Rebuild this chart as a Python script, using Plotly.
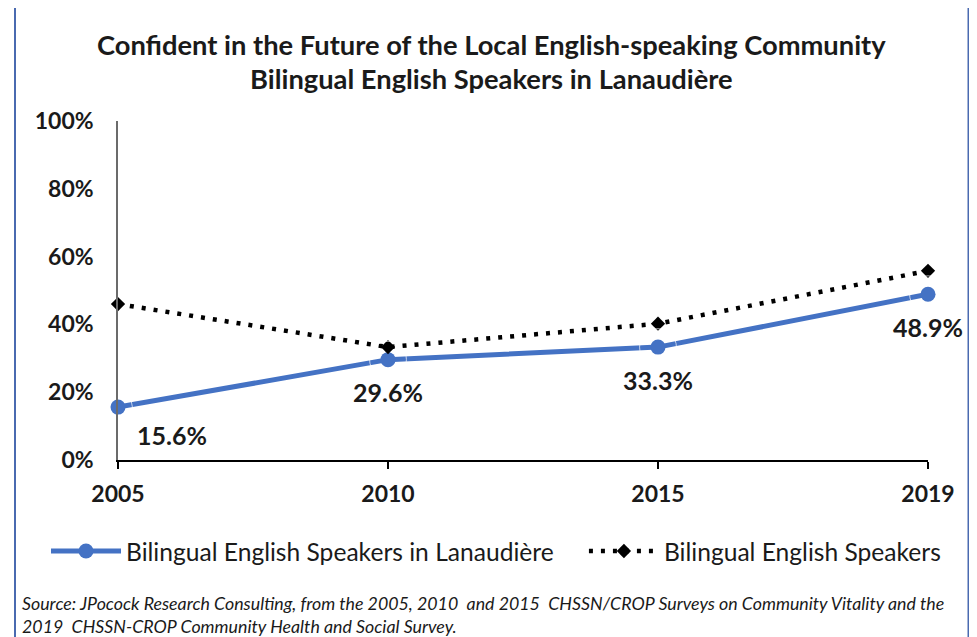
import plotly.graph_objects as go

years = ["2005", "2010", "2015", "2019"]
lanaudiere = [0.156, 0.296, 0.333, 0.489]
bilingual_all = [0.46, 0.333, 0.402, 0.558]
label_text = ["15.6%", "29.6%", "33.3%", "48.9%"]
y_ticks = [0, 0.2, 0.4, 0.6, 0.8, 1.0]
y_tick_text = ["0%", "20%", "40%", "60%", "80%", "100%"]

FONT = "Lato"
BLUE = "#4472C4"
FRAME = "#4A6AB0"
TXT = "#1a1a1a"

W, H = 977, 637
OFF = 8  # page offset of the plot div inside the browser window
PL, PT, PW, PH = 118 - OFF, 121 - OFF, 810, 339


def px_x(p):
    return (p - 118) / PW


def px_y(p):
    return (460 - p) / PH


fig = go.Figure()
fig.add_trace(go.Scatter(
    x=years, y=lanaudiere, mode="lines+markers",
    name="Bilingual English Speakers in Lanaudière" + "\u00a0" * 4,
    line=dict(color=BLUE, width=5),
    marker=dict(symbol="circle", size=15, color=BLUE),
    cliponaxis=False,
))
fig.add_trace(go.Scatter(
    x=years, y=bilingual_all, mode="lines+markers",
    name="Bilingual English Speakers",
    line=dict(color="black", width=4.5, dash="4px,8px"),
    marker=dict(symbol="diamond", size=11, color="black"),
    cliponaxis=False,
))

# data labels for the Lanaudière series: an invisible-marker text trace,
# the (transparent) marker size sets how far below the point the label sits
label_pos = ["bottom right", "bottom center", "bottom center", "bottom center"]
label_gap = [28.8, 36.8, 36.8, 36.8]
fig.add_trace(go.Scatter(
    x=years, y=lanaudiere, mode="markers+text", text=label_text,
    textposition=label_pos,
    textfont=dict(family=FONT, size=25, color=TXT, weight="bold"),
    marker=dict(size=label_gap, color="rgba(0,0,0,0)"),
    showlegend=False, hoverinfo="skip", cliponaxis=False,
))

# title lines
title_lines = ["Confident in the Future of the Local English-speaking Community",
               "Bilingual English Speakers in Lanaudière"]
for line, yc in zip(title_lines, [45, 78]):
    fig.add_annotation(text=line, xref="paper", yref="paper", x=px_x(491), y=px_y(yc),
                       xanchor="center", yanchor="middle", showarrow=False,
                       font=dict(family=FONT, size=27.3, color=TXT, weight="bold"))

# source note
fig.add_annotation(
    text="Source: JPocock Research Consulting, from the 2005, 2010  and 2015  CHSSN/CROP Surveys on Community Vitality and the<br>2019  CHSSN-CROP Community Health and Social Survey.",
    xref="paper", yref="paper", x=px_x(20), y=px_y(614),
    xanchor="left", yanchor="middle", align="left", showarrow=False,
    font=dict(family=FONT, size=17.8, color=TXT, style="italic"))

shapes = [
    dict(type="line", xref="paper", yref="paper", x0=px_x(4), x1=px_x(4), y0=px_y(-5), y1=px_y(660),
         line=dict(color=FRAME, width=2)),
    dict(type="rect", xref="paper", yref="paper", x0=px_x(15), x1=px_x(968.5), y0=px_y(6.5), y1=px_y(660),
         line=dict(color=FRAME, width=2)),
]

fig.update_layout(
    width=W, height=H,
    margin=dict(l=PL, r=W - PL - PW, t=PT, b=H - PT - PH, autoexpand=False),
    paper_bgcolor="white", plot_bgcolor="white",
    font=dict(family=FONT, color=TXT),
    showlegend=True,
    legend=dict(orientation="h", x=px_x(46), xanchor="left", xref="paper",
                y=px_y(551), yanchor="middle", yref="paper",
                font=dict(family=FONT, size=24.6, color=TXT),
                itemwidth=70, tracegroupgap=0, bgcolor="rgba(0,0,0,0)"),
    shapes=shapes,
)
fig.update_xaxes(
    type="category", range=[0, 3], showgrid=False, zeroline=False, automargin=False,
    showline=True, linecolor="black", linewidth=2,
    ticks="outside", ticklen=7, tickwidth=2, tickcolor="black",
    ticklabelstandoff=5, tickangle=0,
    tickfont=dict(family=FONT, size=23, color=TXT, weight="bold"),
)
fig.update_yaxes(
    range=[0, 1], tickvals=y_ticks, ticktext=y_tick_text, automargin=False,
    showgrid=False, zeroline=False,
    showline=True, linecolor="#6b6b6b", linewidth=1.5,
    ticks="", ticklabelstandoff=18,
    tickfont=dict(family=FONT, size=23, color=TXT, weight="bold"),
)

fig.write_html("out.html")
